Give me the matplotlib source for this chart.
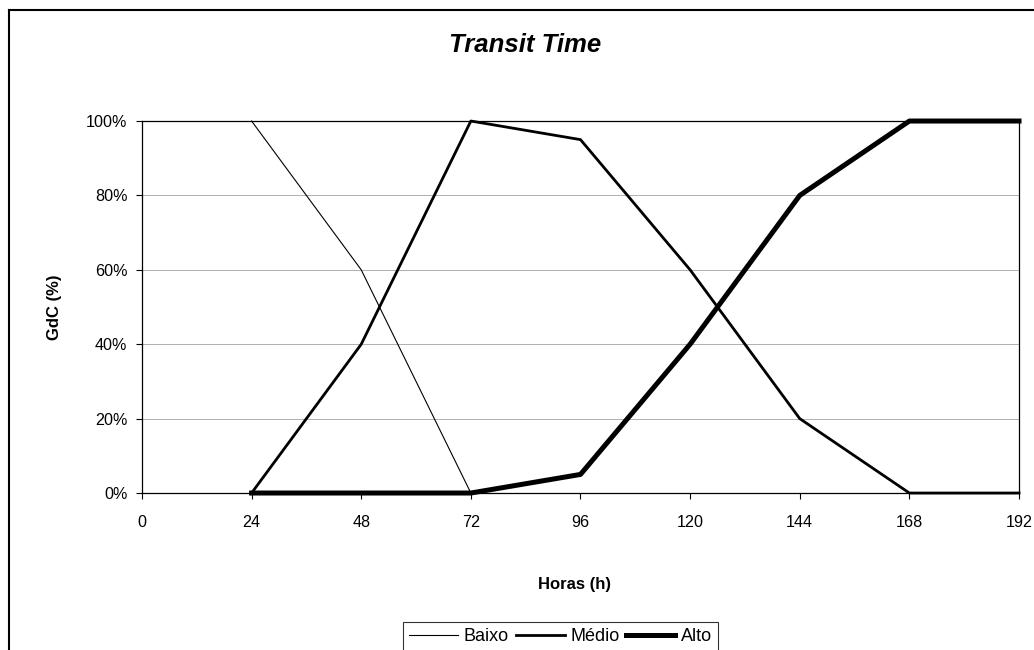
import matplotlib
matplotlib.use('Agg')
import matplotlib.pyplot as plt
from matplotlib.lines import Line2D
from matplotlib.ticker import PercentFormatter

plt.rcParams['font.family'] = ['Liberation Sans', 'DejaVu Sans']

# data
horas_baixo = [24, 48, 72]
baixo = [100, 60, 0]
horas = [24, 48, 72, 96, 120, 144, 168, 192]
medio = [0, 40, 100, 95, 60, 20, 0, 0]
alto = [0, 0, 0, 5, 40, 80, 100, 100]
x_ticks = [0, 24, 48, 72, 96, 120, 144, 168, 192]
y_ticks = [0, 20, 40, 60, 80, 100]

fig = plt.figure(figsize=(10.34, 6.5), dpi=100)
ax = fig.add_axes([0.1373, 0.2415, 0.8482, 0.5723])

ax.plot(horas_baixo, baixo, color='black', lw=0.8, label='Baixo', clip_on=False)
ax.plot(horas, medio, color='black', lw=2.0, label='Médio', clip_on=False)
ax.plot(horas, alto, color='black', lw=3.6, label='Alto', clip_on=False)

ax.set_xlim(0, 192)
ax.set_ylim(0, 100)
ax.set_xticks(x_ticks)
ax.set_yticks(y_ticks)
ax.yaxis.set_major_formatter(PercentFormatter(decimals=0))
ax.tick_params(direction='out', length=4, width=0.8, labelsize=11.6)
ax.tick_params(axis='x', pad=12)
ax.tick_params(axis='y', pad=6.5)
ax.grid(axis='y', color='#b0b0b0', lw=0.7)
ax.set_axisbelow(True)
for s in ax.spines.values():
    s.set_linewidth(0.9)
    s.set_color('black')

ax.set_xlabel('Horas (h)', fontsize=12, fontweight='bold', labelpad=34)
ax.xaxis.set_label_coords(575 / 1034, 1 - 584 / 650, transform=fig.transFigure)
ax.xaxis.label.set_va('center')
ax.set_ylabel('GdC (%)', fontsize=12, fontweight='bold', labelpad=17)
fig.text(525 / 1034, 0.93, 'Transit Time', ha='center', va='center',
         fontsize=18.5, fontweight='bold', fontstyle='italic')

leg = ax.legend(loc='upper left', bbox_to_anchor=(403 / 1034, 1 - 622 / 650),
                bbox_transform=fig.transFigure, ncol=3, frameon=True,
                fancybox=False, fontsize=13, handlelength=2.7,
                handletextpad=0.3, columnspacing=0.4, borderpad=0.35,
                borderaxespad=0)
leg.get_frame().set_edgecolor('black')
leg.get_frame().set_linewidth(0.8)

# outer chart border (only top and left visible in the crop)
fig.add_artist(Line2D([9 / 1034, 9 / 1034], [0, 1 - 10 / 650], color='black', lw=1.5))
fig.add_artist(Line2D([9 / 1034, 1], [1 - 10 / 650, 1 - 10 / 650], color='black', lw=1.5))

fig.savefig('out.png', dpi=100)
